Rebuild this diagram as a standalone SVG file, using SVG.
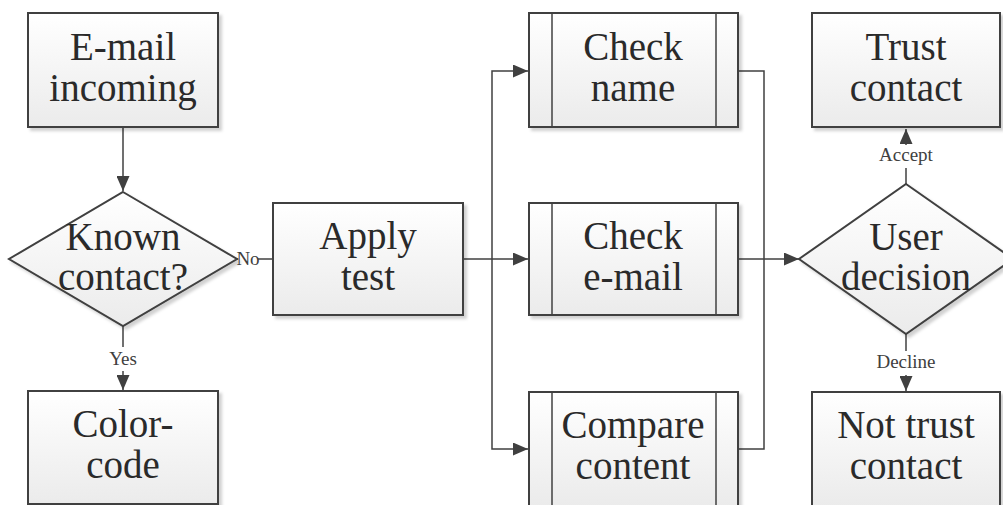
<svg xmlns="http://www.w3.org/2000/svg" width="1003" height="505" viewBox="0 0 1003 505">
  <defs>
    <linearGradient id="fill" x1="0" y1="0" x2="0" y2="1">
      <stop offset="0" stop-color="#ffffff"/>
      <stop offset="1" stop-color="#ebebeb"/>
    </linearGradient>
    <filter id="shadow" x="-10%" y="-10%" width="125%" height="125%">
      <feDropShadow dx="3" dy="3" stdDeviation="1.5" flood-color="#000" flood-opacity="0.18"/>
    </filter>
    <marker id="arrow" markerWidth="15" markerHeight="13" refX="15" refY="6.5" orient="auto" markerUnits="userSpaceOnUse">
      <path d="M0,0 L15,6.5 L0,13 Z" fill="#404040"/>
    </marker>
  </defs>
  <style>
    .shape { fill: url(#fill); stroke: #404040; stroke-width: 2; filter: url(#shadow); }
    .inner { fill: none; stroke: #404040; stroke-width: 1.5; }
    .label { font-family: "Liberation Serif", "Times New Roman", serif; font-size: 39px; fill: #2a2a2a; text-anchor: middle; }
    .edge { fill: none; stroke: #404040; stroke-width: 1.5; }
    .elabel { font-family: "Liberation Serif", "Times New Roman", serif; font-size: 19px; fill: #404040; text-anchor: middle; }
    .lbg { fill: #ffffff; }
  </style>
  <rect width="1003" height="505" fill="#ffffff"/>

  <g id="connectors">
    <line class="edge" x1="123" y1="127" x2="123" y2="191" marker-end="url(#arrow)"/>
    <line class="edge" x1="123" y1="326" x2="123" y2="390" marker-end="url(#arrow)"/>
    <line class="edge" x1="237" y1="259" x2="273" y2="259"/>
    <line class="edge" x1="463" y1="259" x2="528" y2="259" marker-end="url(#arrow)"/>
    <polyline class="edge" points="492,259 492,71 528,71" marker-end="url(#arrow)"/>
    <polyline class="edge" points="492,259 492,449 528,449" marker-end="url(#arrow)"/>
    <polyline class="edge" points="738,71 764,71 764,449 738,449"/>
    <line class="edge" x1="738" y1="259" x2="799" y2="259" marker-end="url(#arrow)"/>
    <line class="edge" x1="906" y1="185" x2="906" y2="129" marker-end="url(#arrow)"/>
    <line class="edge" x1="906" y1="334" x2="906" y2="391" marker-end="url(#arrow)"/>
    <rect class="lbg" x="238" y="250" width="20" height="18"/>
    <text class="elabel" x="248" y="265">No</text>
    <rect class="lbg" x="106" y="347" width="34" height="24"/>
    <text class="elabel" x="123" y="365">Yes</text>
    <rect class="lbg" x="874" y="145" width="64" height="23"/>
    <text class="elabel" x="906" y="161">Accept</text>
    <rect class="lbg" x="871" y="351" width="70" height="24"/>
    <text class="elabel" x="906" y="368">Decline</text>
  </g>

  <g id="email-incoming">
    <rect class="shape" x="28" y="13" width="190" height="114"/>
    <text class="label" x="123" y="60">E-mail</text>
    <text class="label" x="123" y="101">incoming</text>
  </g>

  <g id="known-contact">
    <polygon class="shape" points="123,192 237,259 123,326 9,259"/>
    <text class="label" x="123" y="250">Known</text>
    <text class="label" x="123" y="290">contact?</text>
  </g>

  <g id="color-code">
    <rect class="shape" x="28" y="391" width="190" height="113"/>
    <text class="label" x="123" y="437">Color-</text>
    <text class="label" x="123" y="478">code</text>
  </g>

  <g id="apply-test">
    <rect class="shape" x="273" y="203" width="190" height="112"/>
    <text class="label" x="368" y="249">Apply</text>
    <text class="label" x="368" y="290">test</text>
  </g>

  <g id="check-name">
    <rect class="shape" x="529" y="13" width="209" height="114"/>
    <line class="inner" x1="552" y1="13" x2="552" y2="127"/>
    <line class="inner" x1="716" y1="13" x2="716" y2="127"/>
    <text class="label" x="633" y="60">Check</text>
    <text class="label" x="633" y="101">name</text>
  </g>

  <g id="check-email">
    <rect class="shape" x="529" y="203" width="209" height="112"/>
    <line class="inner" x1="552" y1="203" x2="552" y2="315"/>
    <line class="inner" x1="716" y1="203" x2="716" y2="315"/>
    <text class="label" x="633" y="249">Check</text>
    <text class="label" x="633" y="290">e-mail</text>
  </g>

  <g id="compare-content">
    <rect class="shape" x="529" y="392" width="209" height="114"/>
    <line class="inner" x1="552" y1="392" x2="552" y2="506"/>
    <line class="inner" x1="716" y1="392" x2="716" y2="506"/>
    <text class="label" x="633" y="438">Compare</text>
    <text class="label" x="633" y="479">content</text>
  </g>

  <g id="user-decision">
    <polygon class="shape" points="906,184 1013,259 906,334 799,259"/>
    <text class="label" x="906" y="250">User</text>
    <text class="label" x="906" y="290">decision</text>
  </g>

  <g id="trust-contact">
    <rect class="shape" x="812" y="13" width="188" height="114"/>
    <text class="label" x="906" y="60">Trust</text>
    <text class="label" x="906" y="101">contact</text>
  </g>

  <g id="not-trust-contact">
    <rect class="shape" x="812" y="392" width="188" height="114"/>
    <text class="label" x="906" y="438">Not trust</text>
    <text class="label" x="906" y="479">contact</text>
  </g>
</svg>
